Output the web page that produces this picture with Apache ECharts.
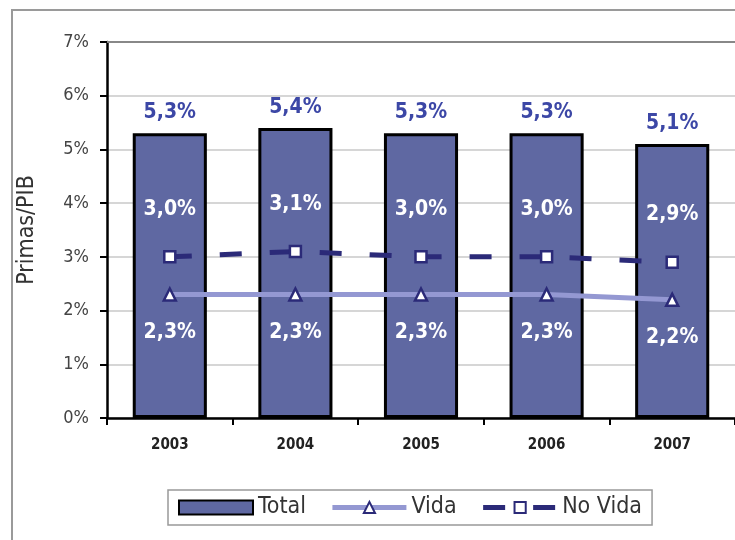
<!DOCTYPE html>
<html>
<head>
<meta charset="utf-8">
<script src="https://cdn.jsdelivr.net/npm/echarts@6/dist/echarts.min.js"></script>
<style>
  html, body { margin: 0; padding: 0; background: #fff; }
  #chart { width: 735px; height: 540px; }
</style>
</head>
<body>
<div id="chart"></div>
<script>
const years = ['2003', '2004', '2005', '2006', '2007']
const total = [5.3, 5.4, 5.3, 5.3, 5.1]
const vida = [2.3, 2.3, 2.3, 2.3, 2.2]
const noVida = [3.0, 3.1, 3.0, 3.0, 2.9]
const yTicks = [0, 1, 2, 3, 4, 5, 6, 7]

const font = "'Liberation Sans Narrow', 'DejaVu Sans Condensed', 'Liberation Sans', sans-serif"
const pct = p => p.value.toFixed(1).replace('.', ',') + '%'

const chart = echarts.init(document.getElementById('chart'))

chart.setOption({
  animation: false,
  textStyle: { fontFamily: font },
  graphic: [
    {
      type: 'rect',
      shape: { x: 12, y: 10, width: 760, height: 560 },
      style: { fill: 'none', stroke: '#9a9a9a', lineWidth: 2 },
      z: -1
    },
    {
      // darker top border of the plot at 7%
      type: 'line',
      shape: { x1: 107, y1: 42, x2: 735, y2: 42 },
      style: { stroke: '#888', lineWidth: 2 },
      z: 5
    }
  ],
  grid: {
    left: 107,
    right: 0,
    top: 42,
    bottom: 122
  },
  legend: {
    bottom: 15,
    left: 168,
    itemWidth: 74,
    itemHeight: 14,
    itemGap: 24,
    padding: [6, 10],
    borderColor: '#999',
    borderWidth: 1.5,
    textStyle: { fontSize: 23, color: '#333', fontFamily: font },
    data: [
      { name: 'Total', icon: 'rect' },
      { name: 'Vida', lineStyle: { width: 5 } },
      { name: 'No Vida', lineStyle: { width: 5 } }
    ]
  },
  xAxis: {
    type: 'category',
    data: years,
    axisLine: { lineStyle: { color: '#000', width: 2.5 } },
    axisTick: { show: true, length: 7, lineStyle: { color: '#000', width: 2 } },
    axisLabel: { fontSize: 15, fontWeight: 'bold', color: '#222', margin: 20 }
  },
  yAxis: {
    type: 'value',
    min: yTicks[0],
    max: yTicks[yTicks.length - 1],
    interval: 1,
    name: 'Primas/PIB',
    nameLocation: 'middle',
    nameGap: 68,
    nameTextStyle: { fontSize: 23, color: '#333' },
    axisLine: { show: true, lineStyle: { color: '#000', width: 2.5 } },
    axisTick: { show: true, length: 7, lineStyle: { color: '#000', width: 2 } },
    axisLabel: { fontSize: 18, color: '#444', margin: 18, formatter: v => v + '%' },
    splitLine: { lineStyle: { color: '#c8c8c8', width: 1.5 } }
  },
  series: [
    {
      name: 'Total',
      type: 'bar',
      data: total,
      barCategoryGap: '41%',
      itemStyle: { color: '#5f68a2', borderColor: '#000', borderWidth: 3 },
      label: {
        show: true,
        position: 'top',
        distance: 10,
        fontSize: 21,
        fontWeight: 'bold',
        color: '#3c47a6',
        formatter: pct
      }
    },
    {
      name: 'Vida',
      type: 'line',
      data: vida,
      symbol: 'triangle',
      symbolSize: 12,
      lineStyle: { color: '#9498d2', width: 5 },
      itemStyle: { color: '#fff', borderColor: '#2b2a78', borderWidth: 2.5 },
      label: {
        show: true,
        position: 'bottom',
        distance: 20,
        fontSize: 21,
        fontWeight: 'bold',
        color: '#fff',
        formatter: pct
      },
      z: 3
    },
    {
      name: 'No Vida',
      type: 'line',
      data: noVida,
      symbol: 'rect',
      symbolSize: 11,
      lineStyle: { color: '#2b2a78', width: 5, type: [22, 28] },
      itemStyle: { color: '#fff', borderColor: '#2b2a78', borderWidth: 2.5 },
      label: {
        show: true,
        position: 'top',
        distance: 30,
        fontSize: 21,
        fontWeight: 'bold',
        color: '#fff',
        formatter: pct
      },
      z: 4
    }
  ]
})
</script>
</body>
</html>
